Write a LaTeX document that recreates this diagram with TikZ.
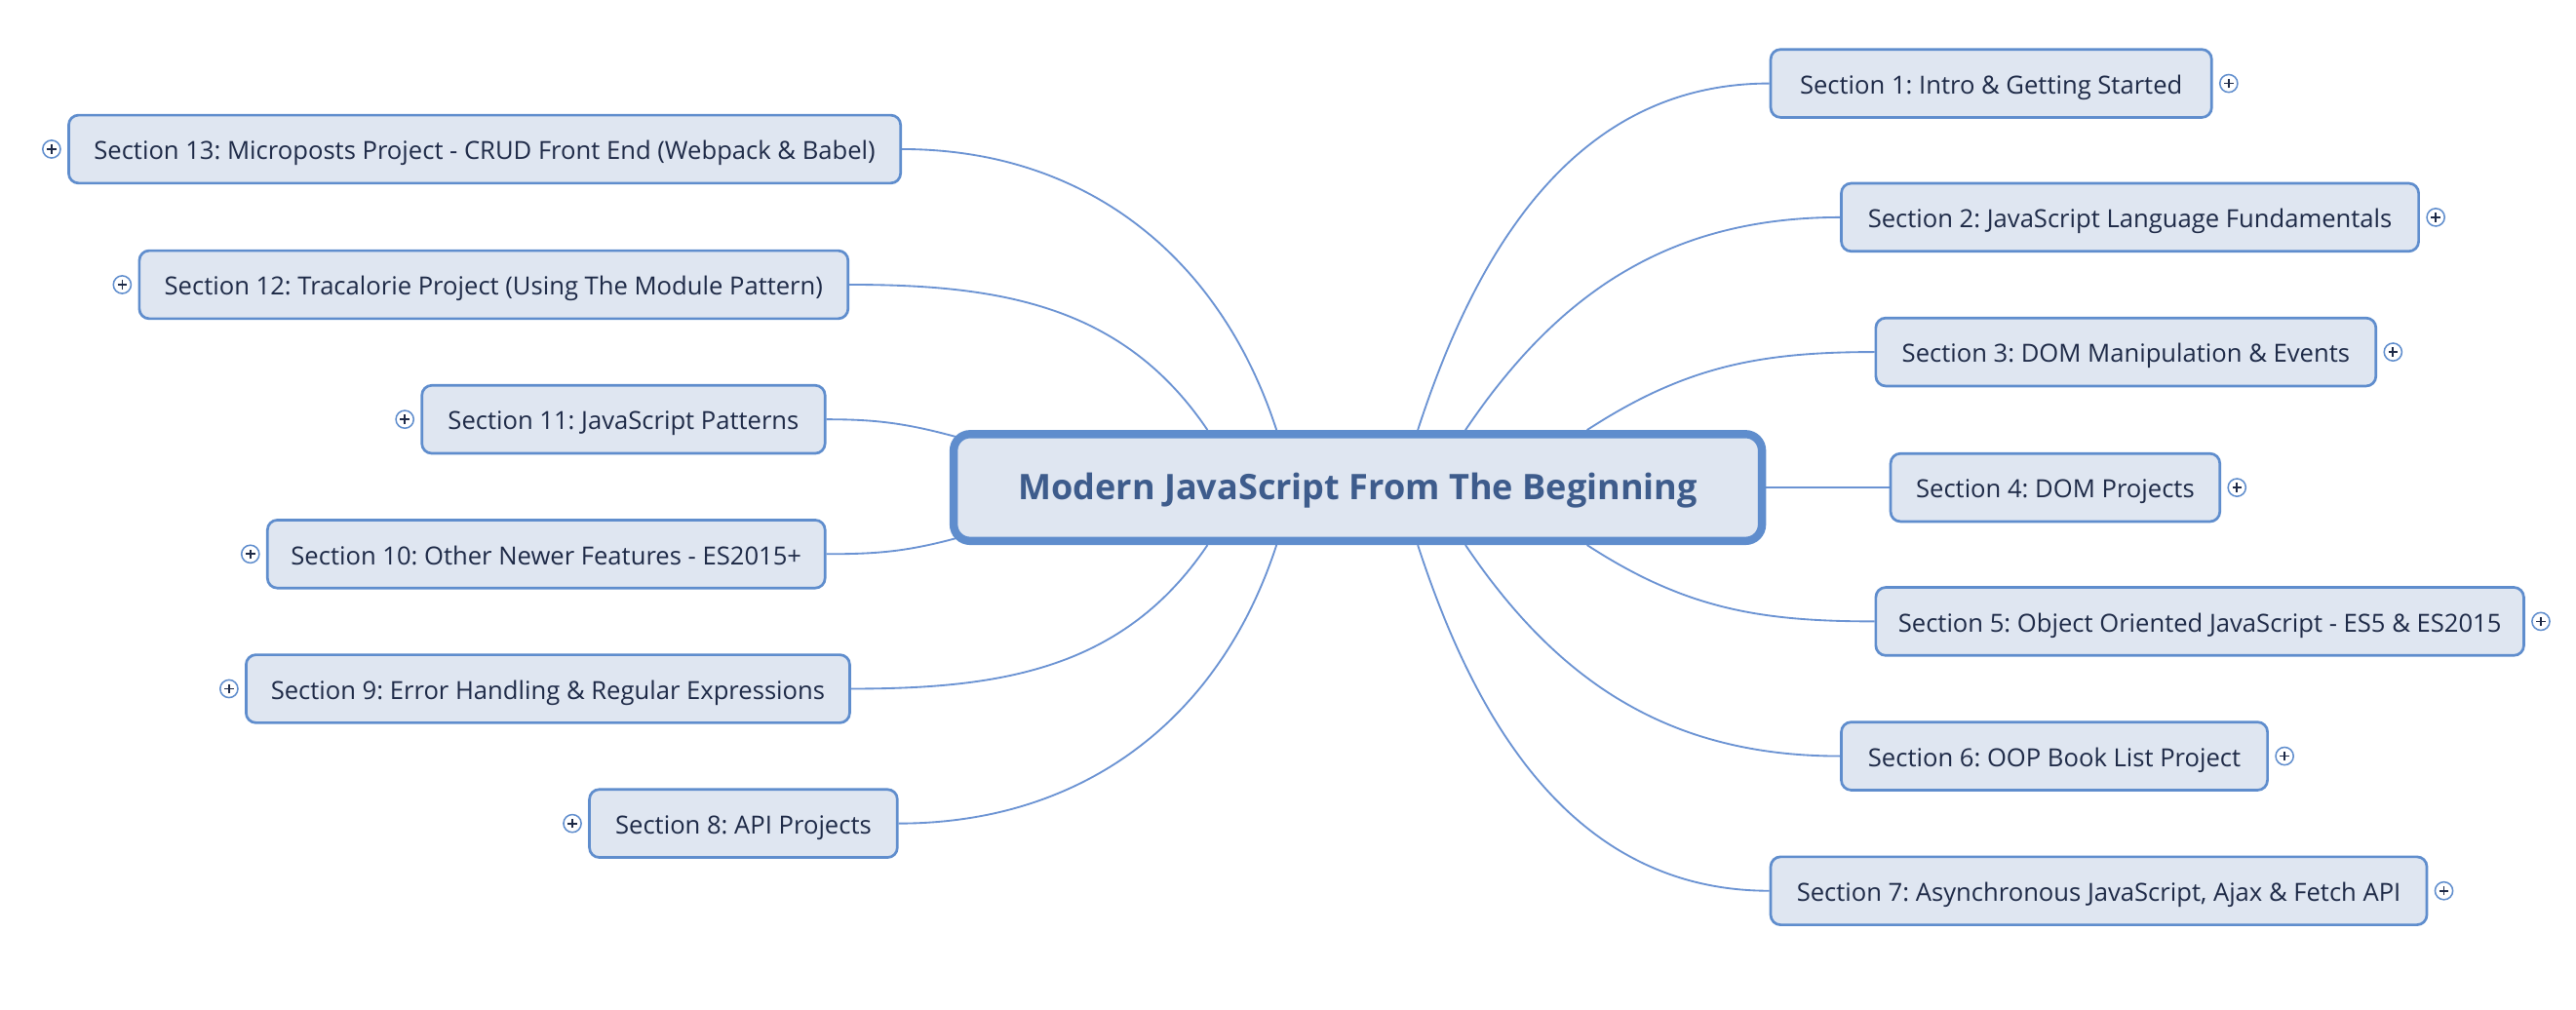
\documentclass[tikz,border=0pt]{standalone}
\usepackage{fontspec}
\setmainfont{Open Sans}
\frenchspacing
\usetikzlibrary{calc}
\pgfdeclarelayer{background}
\pgfsetlayers{background,main}
\definecolor{boxfill}{HTML}{DFE6F1}
\definecolor{boxline}{HTML}{5F8DCD}
\definecolor{conn}{HTML}{6B93D3}
\definecolor{maintext}{HTML}{3E5C8C}
\definecolor{subtext}{HTML}{1E2A47}
\tikzset{
  centralbox/.style={draw=boxline, fill=boxfill, line width=2.5pt, rounded corners=5pt,
    minimum width=246pt, minimum height=32.5pt, inner sep=0pt, text height=8.5pt, text depth=0.9pt,
    font=\fontsize{10.7pt}{12pt}\selectfont\bfseries, text=maintext},
  childbox/.style={draw=boxline, fill=boxfill, line width=0.8pt, rounded corners=3pt,
    minimum height=20.7pt, inner sep=0pt, text height=7pt, text depth=0.6pt,
    font=\fontsize{7.6pt}{9pt}\selectfont\frenchspacing, text=subtext},
  link/.style={draw=conn, line width=0.55pt},
  plusicon/.style={circle, draw=boxline, fill=white, line width=0.45pt, minimum size=5.4pt, inner sep=0pt,
    path picture={\draw[subtext, line width=0.5pt] ($(path picture bounding box.center)+(-1.4pt,0)$) -- ($(path picture bounding box.center)+(1.4pt,0)$)
      ($(path picture bounding box.center)+(0,-1.4pt)$) -- ($(path picture bounding box.center)+(0,1.4pt)$);}}
}
\begin{document}
\begin{tikzpicture}[x=0.5pt, y=0.5pt]
\useasboundingbox (0,0) rectangle (1568,614.8);
\node[centralbox] (c) at (826.5,318) {Modern JavaScript From The Beginning};

\node[childbox, minimum width=134.2pt] (s1) at (1212,564) {Section 1: Intro \& Getting Started};
\node[childbox, minimum width=175.7pt] (s2) at (1296.5,482.5) {Section 2: JavaScript Language Fundamentals};
\node[childbox, minimum width=152.2pt] (s3) at (1294,400.5) {Section 3: DOM Manipulation \& Events};
\node[childbox, minimum width=100.2pt] (s4) at (1251,318) {Section 4: DOM Projects};
\node[childbox, minimum width=197.2pt] (s5) at (1339,236.5) {Section 5: Object Oriented JavaScript - ES5 \& ES2015};
\node[childbox, minimum width=129.7pt] (s6) at (1250.5,154.5) {Section 6: OOP Book List Project};
\node[childbox, minimum width=199.7pt] (s7) at (1277.5,72.5) {Section 7: Asynchronous JavaScript, Ajax \& Fetch API};

\node[childbox, minimum width=253.2pt] (s13) at (295,524) {Section 13: Microposts Project - CRUD Front End (Webpack \& Babel)};
\node[childbox, minimum width=215.7pt] (s12) at (300.5,441.5) {Section 12: Tracalorie Project (Using The Module Pattern)};
\node[childbox, minimum width=122.7pt] (s11) at (379.5,359.5) {Section 11: JavaScript Patterns};
\node[childbox, minimum width=169.7pt] (s10) at (332.5,277.5) {Section 10: Other Newer Features - ES2015+};
\node[childbox, minimum width=183.7pt] (s9) at (333.5,195.5) {Section 9: Error Handling \& Regular Expressions};
\node[childbox, minimum width=93.7pt] (s8) at (452.5,113.5) {Section 8: API Projects};

\foreach \n in {s1,s2,s3,s4,s5,s6,s7}{
  \node[plusicon] (p\n) at ($(\n.east)+(9.6,0)$) {};
}
\foreach \n in {s8,s9,s10,s11,s12,s13}{
  \node[plusicon] (p\n) at ($(\n.west)+(-9.6,0)$) {};
}

\coordinate (a1) at ($(c.center)+(36.5,35)$);
\coordinate (a2) at ($(c.center)+(65.5,35)$);
\coordinate (a3) at ($(c.center)+(139.5,35)$);
\coordinate (a5) at ($(c.center)+(139.5,-35)$);
\coordinate (a6) at ($(c.center)+(65.5,-35)$);
\coordinate (a7) at ($(c.center)+(36.5,-35)$);
\coordinate (a13) at ($(c.center)+(-49.5,35)$);
\coordinate (a12) at ($(c.center)+(-91.5,35)$);
\coordinate (a11) at ($(c.center)+(-245,31)$);
\coordinate (a10) at ($(c.center)+(-245,-31)$);
\coordinate (a9) at ($(c.center)+(-91.5,-35)$);
\coordinate (a8) at ($(c.center)+(-49.5,-35)$);

\begin{pgfonlayer}{background}
\draw[link] (a1) to[out=72, in=180] (s1.west);
\draw[link] (a2) to[out=56, in=180] (s2.west);
\draw[link] (a3) to[out=33, in=180] (s3.west);
\draw[link] (c.east) -- (s4.west);
\draw[link] (a5) to[out=-33, in=180] (s5.west);
\draw[link] (a6) to[out=-56, in=180] (s6.west);
\draw[link] (a7) to[out=-72, in=180] (s7.west);
\draw[link] (a13) to[out=108, in=0] (s13.east);
\draw[link] (a12) to[out=124, in=0] (s12.east);
\draw[link] (s11.east) to[out=0, in=165] (a11);
\draw[link] (s10.east) to[out=0, in=195] (a10);
\draw[link] (a9) to[out=-124, in=0] (s9.east);
\draw[link] (a8) to[out=-108, in=0] (s8.east);
\end{pgfonlayer}
\end{tikzpicture}
\end{document}
